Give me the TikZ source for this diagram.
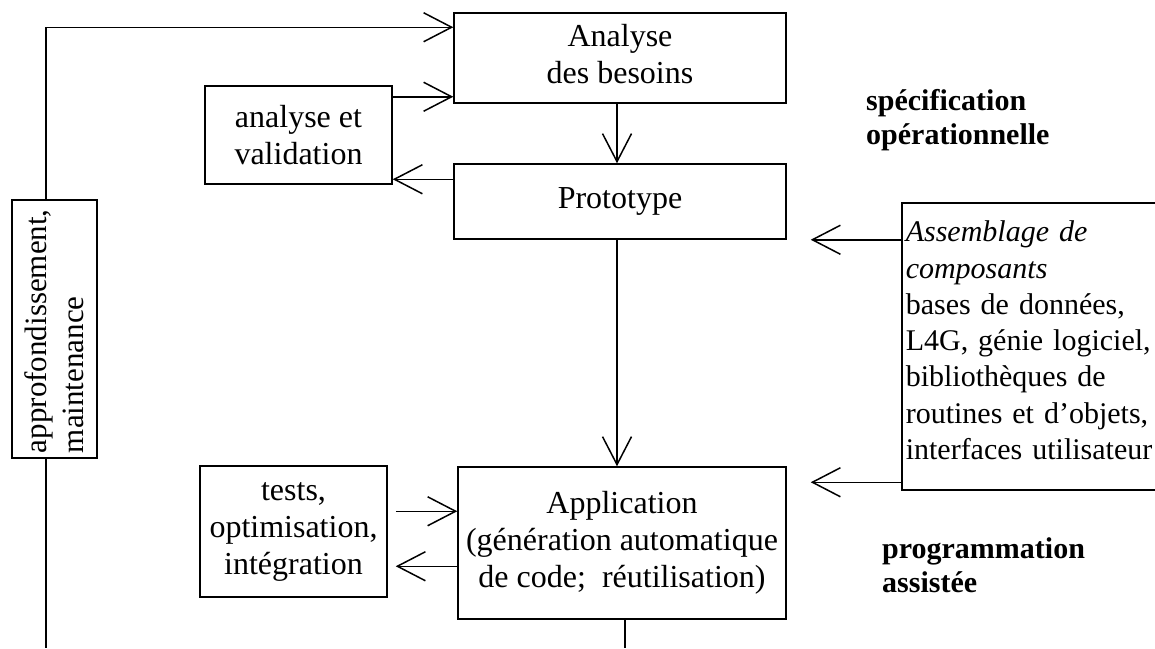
\documentclass[tikz,border=0pt]{standalone}
\usepackage{fontspec}
\setmainfont{Liberation Serif}
\usetikzlibrary{arrows.meta}
\tikzset{
  box/.style={draw, line width=1.5pt, inner sep=4pt, align=center,
    font=\fontsize{32}{37}\selectfont},
  arr/.style={line width=1.5pt,
    -{Straight Barb[length=28pt,width=29pt,line width=1.5pt]}},
  ln/.style={line width=1.5pt},
  lbl/.style={font=\fontsize{30}{34}\selectfont\bfseries, align=left, inner sep=0pt}
}
\begin{document}
\begin{tikzpicture}[x=1pt,y=-1pt]
\useasboundingbox (0,0) rectangle (1155,648);
\clip (0,0) rectangle (1155,648);
\fill[white] (0,0) rectangle (1155,648);

% boxes
\node[box, minimum width=332pt, minimum height=90pt] (A) at (620,58)
  {Analyse\\des besoins\rule[-8pt]{0pt}{8pt}};
\node[box, minimum width=332pt, minimum height=75pt] (P) at (620,201.5) {Prototype};
\node[box, minimum width=328pt, minimum height=152pt] (App) at (622,543)
  {Application\\(génération automatique\\de code;\ \ réutilisation)};
\node[box, minimum width=187pt, minimum height=98pt] (AV) at (298.5,135) {analyse et\\validation};
\node[box, minimum width=187pt, minimum height=131pt] (T) at (293.5,531.5) {tests,\\optimisation,\\intégration};
\node[box, rotate=90, minimum width=258pt, minimum height=85pt, align=left,
  text width=248pt, inner xsep=5pt, font=\fontsize{31}{37}\selectfont]
  (M) at (54.5,329) {approfondissement,\\maintenance};
\node[box, anchor=north west, align=left, text width=252pt, minimum height=287pt,
  font=\fontsize{30}{36.3}\selectfont]
  (Asm) at (901,202) {\textit{Assemblage de}\\\textit{composants}\\bases de données,\\L4G, génie logiciel,\\bibliothèques de\\routines et d'objets,\\interfaces utilisateur\rule[-12pt]{0pt}{12pt}};

% bold labels
\node[lbl, anchor=north west] (S) at (866,89) {spécification\\opérationnelle};
\node[lbl, anchor=north west] (Pg) at (882,537) {programmation\\assistée};

% helper coordinates
\coordinate (ltop) at (46,200);
\coordinate (lbot) at (46,458);
\coordinate (lend) at (46,648);
\coordinate (append) at (625,648);
\path ([yshift=-15pt]A.north west) coordinate (a1);
\path ([yshift=7pt]A.south west) coordinate (a2);
\path ([yshift=-16pt]P.north west) coordinate (p2);
\path ([xshift=-3pt]A.south) coordinate (ad);
\path ([xshift=-3pt]P.north) coordinate (pu);
\path ([xshift=-3pt]P.south) coordinate (pd);
\path ([yshift=-45pt]App.north west) coordinate (t1);
\path ([yshift=-100pt]App.north west) coordinate (t2);
\path ([xshift=8pt]T.east) coordinate (te);
\path ([xshift=24pt]P.south east) coordinate (q1);
\path ([xshift=24pt,yshift=-16pt]App.north east) coordinate (q2);
\path ([xshift=3pt]App.south) coordinate (ab);

% connectors
\draw[arr] (ltop) |- (a1);
\draw[ln] (lbot) -- (lend);
\draw[arr] (AV.east |- a2) -- (a2);
\draw[arr] (p2) -- (AV.east |- p2);
\draw[arr] (ad) -- (pu);
\draw[arr] (pd) -- (pd |- App.north);
\draw[arr] (te |- t1) -- (t1);
\draw[arr] (t2) -- (te |- t2);
\draw[arr] (Asm.west |- q1) -- (q1);
\draw[arr] (Asm.west |- q2) -- (q2);
\draw[ln] (ab) -- (append);
\end{tikzpicture}
\end{document}
